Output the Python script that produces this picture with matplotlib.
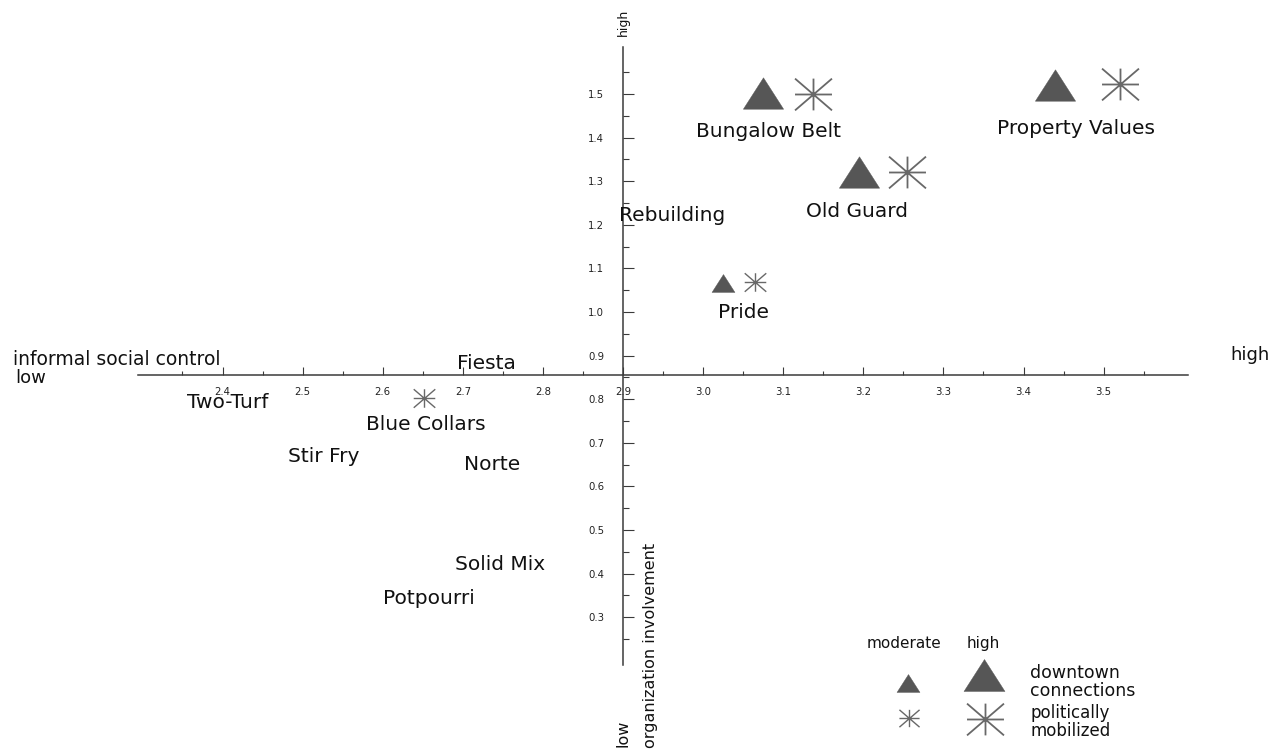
import matplotlib
matplotlib.use("Agg")
import matplotlib.pyplot as plt
from matplotlib.path import Path
from matplotlib.ticker import FixedLocator, FormatStrFormatter

# ---------------- data ----------------
neighborhoods = ["Bungalow Belt", "Property Values", "Old Guard", "Rebuilding", "Pride",
                 "Fiesta", "Two-Turf", "Blue Collars", "Stir Fry", "Norte",
                 "Solid Mix", "Potpourri"]
informal_social_control = [3.082, 3.466, 3.192, 2.961, 3.050,
                           2.729, 2.407, 2.654, 2.526, 2.737,
                           2.746, 2.657]
organization_involvement = [1.401, 1.408, 1.218, 1.209, 0.986,
                            0.869, 0.780, 0.729, 0.656, 0.638,
                            0.408, 0.330]

# downtown connections (triangles)
downtown_x = [3.075, 3.439, 3.195, 3.025]
downtown_y = [1.502, 1.521, 1.321, 1.067]
downtown_level = ["high", "high", "high", "moderate"]

# politically mobilized (asterisks)
political_x = [3.137, 3.521, 3.255, 3.065, 2.652]
political_y = [1.500, 1.523, 1.321, 1.069, 0.803]
political_level = ["high", "high", "high", "moderate", "moderate"]

x_major = [2.4, 2.5, 2.6, 2.7, 2.8, 2.9, 3.0, 3.1, 3.2, 3.3, 3.4, 3.5]
x_minor = [2.35, 2.45, 2.55, 2.65, 2.75, 2.85, 2.95, 3.05, 3.15, 3.25, 3.35, 3.45, 3.55]
y_major = [0.3, 0.4, 0.5, 0.6, 0.7, 0.8, 0.9, 1.0, 1.1, 1.2, 1.3, 1.4, 1.5]
y_minor = [0.25, 0.35, 0.45, 0.55, 0.65, 0.75, 0.85, 0.95, 1.05, 1.15, 1.25, 1.35, 1.45, 1.55]

legend_levels = ["moderate", "high"]
legend_rows = [["downtown", "connections"], ["politically", "mobilized"]]

# ---------------- styles ----------------
W, H = 1280, 749
TRI_COLOR = "#565656"
AST_COLOR = "#686868"
TXT = "#111111"
AX_COLOR = "#3a3a3a"

tri_path = Path([(0, 0.78), (-1, -0.78), (1, -0.78), (0, 0.78)],
                [Path.MOVETO, Path.LINETO, Path.LINETO, Path.CLOSEPOLY])
ast_path = Path([(-1, 0), (1, 0), (0, -0.86), (0, 0.86),
                 (-1, -0.86), (1, 0.86), (-1, 0.86), (1, -0.86)],
                [Path.MOVETO, Path.LINETO] * 4)

tri_size = {"moderate": 16.5, "high": 29.0}
ast_size = {"moderate": 15.5, "high": 26.6}
ast_lw = {"moderate": 1.0, "high": 1.3}


def fx(px):
    return px / W


def fy(py):
    return 1 - py / H


fig = plt.figure(figsize=(12.8, 7.49), dpi=100)
ax = fig.add_axes([0, 0, 1, 1])
ax.set_xlim(2.1222, 3.7202)
ax.set_ylim(-0.0023, 1.7156)
ax.patch.set_visible(False)

for s in ["top", "right"]:
    ax.spines[s].set_visible(False)
ax.spines["left"].set_position(("data", 2.9))
ax.spines["bottom"].set_position(("data", 0.856))
ax.spines["left"].set_bounds(0.19, 1.608)
ax.spines["bottom"].set_bounds(2.295, 3.605)
for s in ["left", "bottom"]:
    ax.spines[s].set_color(AX_COLOR)
    ax.spines[s].set_linewidth(1.1)

ax.xaxis.set_major_locator(FixedLocator(x_major))
ax.xaxis.set_minor_locator(FixedLocator(x_minor))
ax.yaxis.set_major_locator(FixedLocator(y_major))
ax.yaxis.set_minor_locator(FixedLocator(y_minor))
ax.xaxis.set_major_formatter(FormatStrFormatter("%.1f"))
ax.yaxis.set_major_formatter(FormatStrFormatter("%.1f"))

ax.tick_params(axis="x", which="major", direction="in", length=5.8, width=0.8,
               pad=9.0, labelsize=7.3, colors=AX_COLOR, labelcolor="#222222")
ax.tick_params(axis="x", which="minor", direction="in", length=2.9, width=0.8,
               colors=AX_COLOR)
ax.tick_params(axis="y", which="major", direction="in", length=7.9, width=0.8,
               pad=13.5, labelsize=7.3, colors=AX_COLOR, labelcolor="#222222")
ax.tick_params(axis="y", which="minor", direction="in", length=4.3, width=0.8,
               colors=AX_COLOR)

# markers
for lvl in ["moderate", "high"]:
    xs = [x for x, l in zip(downtown_x, downtown_level) if l == lvl]
    ys = [y for y, l in zip(downtown_y, downtown_level) if l == lvl]
    ax.plot(xs, ys, linestyle="none", marker=tri_path, markersize=tri_size[lvl],
            markerfacecolor=TRI_COLOR, markeredgecolor=TRI_COLOR, markeredgewidth=0.3)
    xs = [x for x, l in zip(political_x, political_level) if l == lvl]
    ys = [y for y, l in zip(political_y, political_level) if l == lvl]
    ax.plot(xs, ys, linestyle="none", marker=ast_path, markersize=ast_size[lvl],
            markerfacecolor="none", markeredgecolor=AST_COLOR,
            markeredgewidth=ast_lw[lvl])

# neighborhood labels
for name, x, y in zip(neighborhoods, informal_social_control, organization_involvement):
    ax.text(x, y, name, ha="center", va="baseline", fontsize=14.5, color=TXT)

# axis end labels
fig.text(fx(13), fy(365), "informal social control", ha="left", va="baseline",
         fontsize=13.5, color=TXT)
fig.text(fx(15), fy(383), "low", ha="left", va="baseline", fontsize=13, color=TXT)
fig.text(fx(1230), fy(360), "high", ha="left", va="baseline", fontsize=13, color=TXT)
fig.text(fx(623), fy(22), "high", ha="center", va="center", rotation=90,
         fontsize=9, color=TXT)
fig.text(fx(623), fy(733), "low", ha="center", va="center", rotation=90,
         fontsize=11.5, color=TXT)
fig.text(fx(651), fy(748), "organization involvement", ha="center", va="bottom",
         rotation=90, fontsize=11.5, color=TXT)

# legend
fig.text(fx(904), fy(648), legend_levels[0], ha="center", va="baseline",
         fontsize=11, color=TXT)
fig.text(fx(983), fy(648), legend_levels[1], ha="center", va="baseline",
         fontsize=11, color=TXT)
ax.plot([fx(908)], [fy(683)], transform=ax.transAxes, linestyle="none",
        marker=tri_path, markersize=tri_size["moderate"],
        markerfacecolor=TRI_COLOR, markeredgecolor=TRI_COLOR, markeredgewidth=0.3,
        clip_on=False)
ax.plot([fx(984)], [fy(675)], transform=ax.transAxes, linestyle="none",
        marker=tri_path, markersize=tri_size["high"] + 0.5,
        markerfacecolor=TRI_COLOR, markeredgecolor=TRI_COLOR, markeredgewidth=0.3,
        clip_on=False)
ax.plot([fx(909)], [fy(718)], transform=ax.transAxes, linestyle="none",
        marker=ast_path, markersize=14.5, markerfacecolor="none",
        markeredgecolor=AST_COLOR, markeredgewidth=1.0, clip_on=False)
ax.plot([fx(985)], [fy(719)], transform=ax.transAxes, linestyle="none",
        marker=ast_path, markersize=ast_size["high"], markerfacecolor="none",
        markeredgecolor=AST_COLOR, markeredgewidth=1.3, clip_on=False)

fig.text(fx(1030), fy(678), legend_rows[0][0], ha="left", va="baseline",
         fontsize=12.5, color=TXT)
fig.text(fx(1030), fy(696), legend_rows[0][1], ha="left", va="baseline",
         fontsize=12.5, color=TXT)
fig.text(fx(1030), fy(718), legend_rows[1][0], ha="left", va="baseline",
         fontsize=12, color=TXT)
fig.text(fx(1030), fy(736), legend_rows[1][1], ha="left", va="baseline",
         fontsize=12, color=TXT)

fig.savefig("out.png", dpi=100)
